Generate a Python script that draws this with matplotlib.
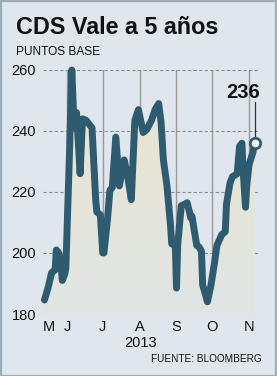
import matplotlib
matplotlib.use('Agg')
import matplotlib.pyplot as plt
import matplotlib.dates as mdates
import numpy as np
import pandas as pd
from matplotlib.patches import Rectangle
from matplotlib.colors import LinearSegmentedColormap

# ---- data ----
dates = ["2013-05-13", "2013-05-16", "2013-05-19", "2013-05-22", "2013-05-23", "2013-05-25",
         "2013-05-27", "2013-05-28", "2013-05-30", "2013-05-31", "2013-06-03", "2013-06-05",
         "2013-06-07", "2013-06-09", "2013-06-12", "2013-06-14", "2013-06-17", "2013-06-20",
         "2013-06-22", "2013-06-25", "2013-06-26", "2013-06-29", "2013-07-01", "2013-07-02",
         "2013-07-05", "2013-07-07", "2013-07-09", "2013-07-12", "2013-07-15", "2013-07-19",
         "2013-07-22", "2013-07-25", "2013-07-28", "2013-07-31", "2013-08-04", "2013-08-07",
         "2013-08-11", "2013-08-14", "2013-08-17", "2013-08-19", "2013-08-21", "2013-08-24",
         "2013-08-27", "2013-08-28", "2013-08-31", "2013-09-01", "2013-09-02", "2013-09-05",
         "2013-09-08", "2013-09-10", "2013-09-13", "2013-09-14", "2013-09-18", "2013-09-20",
         "2013-09-22", "2013-09-23", "2013-09-26", "2013-09-27", "2013-09-30", "2013-10-03",
         "2013-10-05", "2013-10-09", "2013-10-12", "2013-10-13", "2013-10-16", "2013-10-18",
         "2013-10-22", "2013-10-24", "2013-10-26", "2013-10-27", "2013-10-29", "2013-10-30",
         "2013-11-01", "2013-11-04", "2013-11-06"]
values = [184.6, 188.5, 193.5, 194.5, 201, 200,
          196, 191, 193, 195, 232, 260,
          241, 246, 226, 244, 243.5, 242,
          241, 218, 213.5, 212.5, 200, 200,
          211, 220.5, 221.5, 238, 222, 230.5,
          225, 217.5, 243.5, 247, 239.5, 240.5,
          243.5, 247, 249, 243, 230.5, 222,
          209, 203, 202.5, 188.5, 202.5, 215.5,
          216, 216.5, 211.5, 212, 202.5, 202,
          200.5, 189.5, 185.5, 184, 189.5, 197,
          202.5, 206, 207, 216, 223, 225,
          226, 235, 236, 227, 215, 222,
          229, 232.7, 236]

y_ticks = [180, 200, 220, 240, 260]
month_pos = ["2013-05-17", "2013-06-01", "2013-07-01", "2013-08-01", "2013-09-01", "2013-10-01", "2013-11-01"]
month_labels = ["M", "J", "J", "A", "S", "O", "N"]
grid_months = ["2013-06-01", "2013-07-01", "2013-08-01", "2013-09-01", "2013-10-01", "2013-11-01"]

title = "CDS Vale a 5 años"
subtitle = "PUNTOS BASE"
source = "FUENTE: BLOOMBERG"
year_label = "2013"
last_label = "236"

# ---- style ----
BG = '#dfe6ee'
LINE = '#2f5b71'
FONT = ['Liberation Sans', 'DejaVu Sans']
plt.rcParams['font.family'] = FONT

W, H = 277, 376
fig = plt.figure(figsize=(W / 100, H / 100), dpi=100)
fig.patch.set_facecolor(BG)
fig.patches.append(Rectangle((0.5 / W, 0.5 / H), 1 - 1.5 / W, 1 - 1.5 / H, transform=fig.transFigure,
                             fill=False, edgecolor='#9eacb8', lw=1.6))

L, R, B, T = 43, 258, 314, 70
ax = fig.add_axes([L / W, 1 - B / H, (R - L) / W, (B - T) / H])
ax.set_facecolor('none')

x = mdates.date2num(pd.to_datetime(dates))
y = np.array(values)
jun1 = mdates.date2num(pd.Timestamp("2013-06-01"))
xmin, xmax = jun1 - 20.2, jun1 + 160.5

# gridlines
for v in y_ticks:
    ax.axhline(v, color='#8c8c8c', lw=0.8, dashes=(3, 2), zorder=0.5)
for m in grid_months:
    ax.axvline(mdates.date2num(pd.Timestamp(m)), color='#999999', lw=1.0, zorder=0.6)

# gradient fill under the line
poly = ax.fill_between(x, y, 180, facecolor='none', edgecolor='none')
cmap = LinearSegmentedColormap.from_list('f', ['#e0e4e4', '#eae5cf'])
grad = np.linspace(0, 1, 256).reshape(-1, 1)
im = ax.imshow(grad, extent=[x[0], x[-1], 180, 260], aspect='auto', cmap=cmap, origin='lower', zorder=1)
im.set_clip_path(poly.get_paths()[0], transform=ax.transData)

ax.plot(x, y, color=LINE, lw=5.0, solid_joinstyle='round', solid_capstyle='round', zorder=3, clip_on=False)

# leader & end marker
ax.plot([x[-1], x[-1]], [y[-1] + 1.5, 249.5], color='#333333', lw=0.9, zorder=4, clip_on=False)
ax.plot([x[-1]], [y[-1]], 'o', ms=7.5, mfc='white', mec=LINE, mew=2.0, zorder=5, clip_on=False)

ax.set_xlim(xmin, xmax)
ax.set_ylim(180, 260)
for s in ax.spines.values():
    s.set_visible(False)
ax.set_yticks(y_ticks)
ax.set_yticklabels([str(v) for v in y_ticks], fontsize=10.5, color='#111111')
ax.set_xticks(mdates.date2num(pd.to_datetime(month_pos)))
ax.set_xticklabels(month_labels, fontsize=10.5, color='#111111')
ax.tick_params(axis='y', length=0, pad=5)
ax.tick_params(axis='x', length=0, pad=4)

fig.text(16 / W, 1 - 34 / H, title, fontsize=16.8, weight='bold', va='baseline', ha='left', color='#111111')
fig.text(16 / W, 1 - 55 / H, subtitle, fontsize=8.6, va='baseline', ha='left', color='#111111')
fig.text(243 / W, 1 - 97.5 / H, last_label, fontsize=14.5, weight='bold', va='baseline', ha='center', color='#111111')
fig.text(141 / W, 1 - 347 / H, year_label, fontsize=10.5, va='baseline', ha='center', color='#111111')
fig.text(262 / W, 1 - 362 / H, source, fontsize=7.2, va='baseline', ha='right', color='#111111')

fig.savefig('out.png', dpi=100, facecolor=BG)
